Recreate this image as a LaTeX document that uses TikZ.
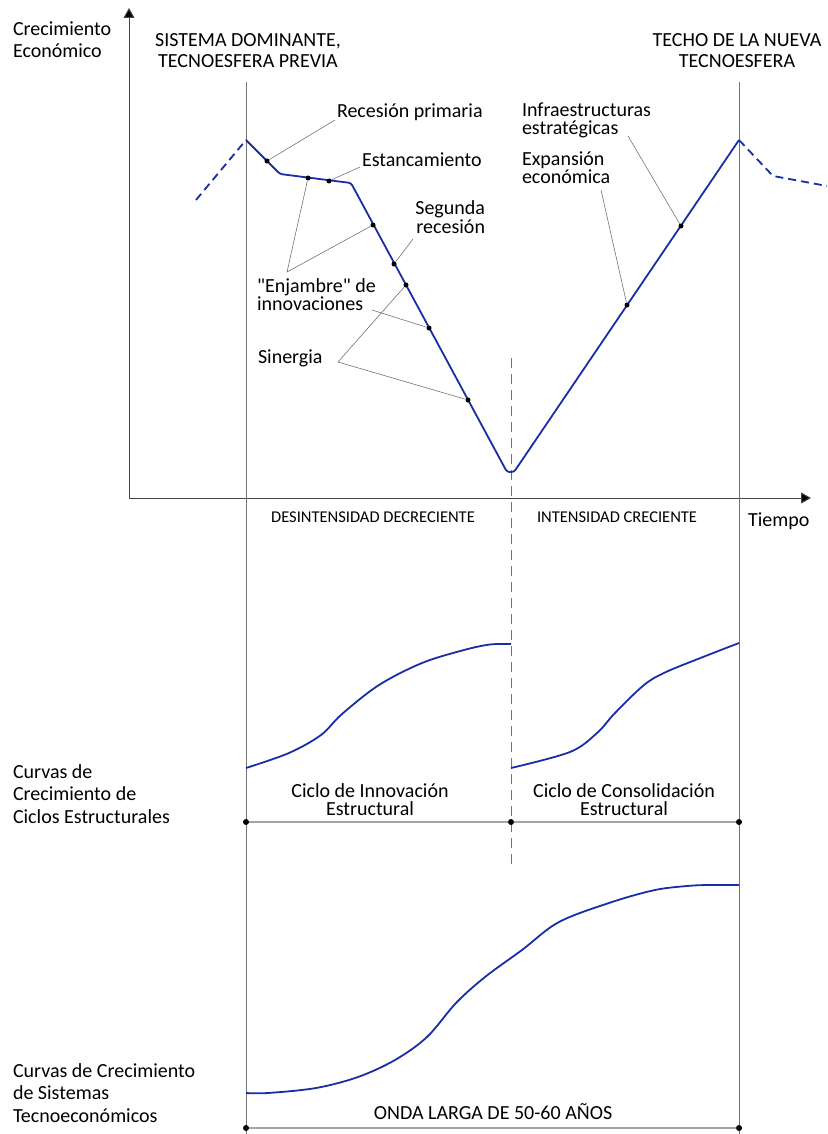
\documentclass[tikz,border=0pt]{standalone}
\usepackage{fontspec}
\setmainfont{Carlito}[Ligatures=TeXOff]
\usetikzlibrary{arrows.meta}
\definecolor{curveblue}{RGB}{25,45,165}
\definecolor{axisgray}{RGB}{70,70,70}
\definecolor{guidegray}{RGB}{115,115,115}
\definecolor{spangray}{RGB}{165,165,165}
\begin{document}
\begin{tikzpicture}[x=1pt,y=-1pt,
  txt/.style={inner sep=0pt, outer sep=0pt, font=\fontsize{20}{18}\selectfont},
  sidetxt/.style={txt, align=left, font=\fontsize{20}{22.5}\selectfont},
  titletxt/.style={txt, align=center, font=\fontsize{20}{21}\selectfont},
  phasetxt/.style={txt, font=\fontsize{16.5}{18}\selectfont},
  axis/.style={draw=axisgray, line width=1pt},
  guide/.style={draw=guidegray, line width=0.8pt},
  midguide/.style={guide, dash pattern=on 10pt off 6pt},
  span/.style={draw=spangray, line width=1.4pt},
  leader/.style={draw=guidegray, line width=0.6pt},
  growth/.style={draw=curveblue, line width=1.8pt, line join=round},
  trend/.style={growth, dash pattern=on 8pt off 5pt},
  dot/.style={circle, fill=black, inner sep=0pt, minimum size=5pt},
  bigdot/.style={dot, minimum size=6pt},
  tip/.style={-{Triangle[length=10pt,width=11pt,fill=black]}}
]
\useasboundingbox (0,0) rectangle (827,1134);

% axes
\coordinate (O) at (129,498);
\coordinate (yTop) at (129,8);
\coordinate (xEnd) at (811,498);
\draw[axis, tip] (O) -- (yTop);
\draw[axis, tip] (O) -- (xEnd);

% vertical guides
\coordinate (g1top) at (246,82);
\coordinate (g1bot) at (246,1134);
\coordinate (g2top) at (739,82);
\coordinate (g2bot) at (739,1134);
\coordinate (gmtop) at (511,358);
\coordinate (gmbot) at (511,870);
\draw[guide] (g1top) -- (g1bot);
\draw[guide] (g2top) -- (g2bot);
\draw[midguide] (gmtop) -- (gmbot);

% titles and axis labels (base anchor = last line)
\node[sidetxt, anchor=base west] (ylabel) at (13,58) {Crecimiento\\Económico};
\node[titletxt, anchor=base] (title1) at (248,68) {SISTEMA DOMINANTE,\\TECNOESFERA PREVIA};
\node[titletxt, anchor=base] (title2) at (737,68) {TECHO DE LA NUEVA\\TECNOESFERA};
\node[txt, anchor=base west] (time) at (748,526) {Tiempo};
\node[phasetxt, anchor=base] (phase1) at (373,522) {DESINTENSIDAD DECRECIENTE};
\node[phasetxt, anchor=base] (phase2) at (617,522) {INTENSIDAD CRECIENTE};

% economic growth path
\draw[trend] (196,200) -- (246,140);
\draw[growth, rounded corners=2.5pt] (246,140) -- (280,174) -- (351,183) -- (507,472) -- (514,472) -- (739,140);
\draw[trend] (739,140) -- (773,176) -- (827,186);

% marked points on the path
\node[dot] (dRec) at (267,161) {};
\node[dot] (dSw1) at (308,178) {};
\node[dot] (dEst) at (329,181) {};
\node[dot] (dSw2) at (373,225) {};
\node[dot] (dSeg) at (394,264) {};
\node[dot] (dSyn1) at (406,285) {};
\node[dot] (dInn) at (429,328) {};
\node[dot] (dSyn2) at (468,400) {};
\node[dot] (dExp) at (627,305) {};
\node[dot] (dInf) at (681,226) {};

% annotations
\node[txt, anchor=base west] (rec) at (337,118) {Recesión primaria};
\node[txt, anchor=base west] (est) at (362,167) {Estancamiento};
\node[txt, align=right, anchor=base east] (seg) at (485,233) {Segunda\\recesión};
\node[txt, align=left, anchor=base west] (enj) at (257,310) {"Enjambre" de\\innovaciones};
\node[txt, anchor=base west] (sin) at (258,363) {Sinergia};
\node[txt, align=left, anchor=base west] (inf) at (522,135) {Infraestructuras\\estratégicas};
\node[txt, align=left, anchor=base west] (exp) at (522,184) {Expansión\\económica};

\coordinate (tipRec) at (335,120);
\coordinate (tipEst) at (360,167);
\coordinate (tipSeg) at (413,239);
\coordinate (tipEnj) at (287,272);
\coordinate (tipInn) at (372,310);
\coordinate (tipSin) at (338,362);
\coordinate (tipInf) at (628,136);
\coordinate (tipExp) at (601,190);

\draw[leader] (tipRec) -- (dRec);
\draw[leader] (tipEst) -- (dEst);
\draw[leader] (tipSeg) -- (dSeg);
\draw[leader] (dSw1) -- (tipEnj) -- (dSw2);
\draw[leader] (tipInn) -- (dInn);
\draw[leader] (dSyn1) -- (tipSin) -- (dSyn2);
\draw[leader] (tipInf) -- (dInf);
\draw[leader] (tipExp) -- (dExp);

% structural cycle curves
\draw[growth] plot[smooth, tension=0.55] coordinates {(246,768) (289,753) (321,735) (342,714) (379,685) (422,663) (464,650) (490,644.5) (511,644)};
\draw[growth] plot[smooth, tension=0.55] coordinates {(511,768) (570,752) (597,733) (615,713) (644,685) (666,672) (703,657) (739,643)};

\node[sidetxt, anchor=base west] (cycles) at (13,823) {Curvas de\\Crecimiento de\\Ciclos Estructurales};
\node[txt, align=center, anchor=base] (cyc1) at (370,815) {Ciclo de Innovación\\Estructural};
\node[txt, align=center, anchor=base] (cyc2) at (624,815) {Ciclo de Consolidación\\Estructural};

\node[bigdot] (sA) at (246,822) {};
\node[bigdot] (sB) at (511,822) {};
\node[bigdot] (sC) at (739,822) {};
\draw[span] (sA) -- (sB) -- (sC);

% long wave curve
\draw[growth] plot[smooth, tension=0.55] coordinates {(246,1093) (268,1093) (316,1088) (358,1077) (395,1060) (427,1037) (456,1003) (485,977) (522,950) (559,922) (612,902) (655,890) (687,886) (708,885) (739,885)};

\node[sidetxt, anchor=base west] (systems) at (13,1122) {Curvas de Crecimiento\\de Sistemas\\Tecnoeconómicos};
\node[txt, anchor=base] (wave) at (493,1119) {ONDA LARGA DE 50-60 AÑOS};

\node[bigdot] (wA) at (246,1128) {};
\node[bigdot] (wB) at (739,1128) {};
\draw[span] (wA) -- (wB);
\end{tikzpicture}
\end{document}
